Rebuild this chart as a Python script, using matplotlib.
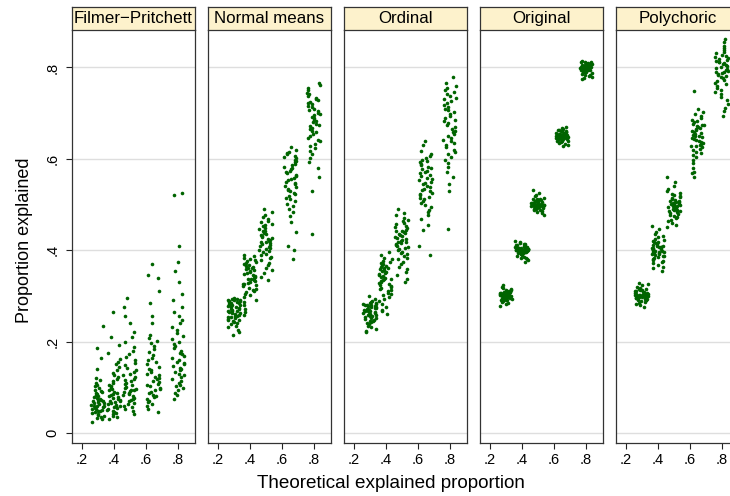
import numpy as np
import pandas as pd
import matplotlib
matplotlib.use('Agg')
import matplotlib.pyplot as plt
import seaborn as sns

methods = ['Filmer\u2212Pritchett', 'Normal means', 'Ordinal', 'Original', 'Polychoric']
levels = [0.3, 0.4, 0.5, 0.65, 0.8]
xtick_vals = [0.2, 0.4, 0.6, 0.8]
xtick_labels = ['.2', '.4', '.6', '.8']
ytick_vals = [0, 0.2, 0.4, 0.6, 0.8]
ytick_labels = ['0', '.2', '.4', '.6', '.8']

# proportion explained (x1000), one list per theoretical level
filmer = [
    [25, 30, 33, 36, 38, 40, 42, 44, 45, 47, 48, 50, 52, 53, 55, 56, 58, 59, 60, 62, 63, 65, 66, 68, 69,
     70, 72, 73, 75, 77, 79, 80, 82, 85, 87, 90, 92, 95, 98, 102, 106, 110, 115, 120, 140, 165, 185, 234],
    [30, 34, 38, 41, 44, 46, 48, 50, 52, 54, 56, 58, 60, 62, 64, 66, 68, 70, 71, 73, 75, 77, 79, 81, 83,
     85, 87, 90, 93, 96, 99, 102, 106, 110, 114, 118, 122, 127, 132, 138, 144, 150, 156, 162, 175, 192, 210, 265],
    [42, 48, 53, 57, 60, 63, 66, 69, 72, 75, 77, 80, 82, 85, 87, 89, 91, 93, 95, 97, 99, 101, 104, 107, 110,
     113, 116, 119, 122, 126, 130, 134, 138, 143, 148, 154, 160, 166, 172, 180, 188, 198, 210, 222, 240, 255, 275, 295],
    [45, 52, 58, 63, 67, 71, 75, 78, 81, 84, 87, 90, 93, 96, 99, 102, 105, 108, 111, 114, 117, 120, 123, 126, 129,
     133, 137, 141, 145, 150, 155, 160, 165, 171, 177, 183, 190, 196, 202, 208, 215, 240, 255, 285, 310, 340, 345, 370],
    [75, 82, 88, 93, 98, 102, 106, 110, 114, 118, 122, 126, 130, 134, 137, 140, 143, 146, 150, 153, 156, 160, 164, 168, 172,
     176, 180, 185, 190, 195, 200, 206, 212, 218, 225, 232, 240, 248, 256, 265, 275, 290, 305, 330, 355, 375, 410, 520, 525],
]
normal_means = [
    [214, 220, 226, 231, 235, 238, 241, 243, 245, 247, 249, 251, 253, 254, 256, 257, 259, 260, 262, 263, 264, 266, 267, 268,
     270, 271, 272, 274, 275, 276, 278, 279, 280, 281, 283, 284, 285, 286, 287, 288, 289, 290, 291, 292, 293, 294, 295, 248],
    [258, 265, 272, 280, 286, 292, 297, 301, 305, 309, 312, 315, 318, 321, 323, 326, 328, 330, 332, 334, 336, 338, 340, 342,
     344, 346, 348, 350, 352, 354, 356, 358, 360, 362, 364, 366, 368, 370, 372, 374, 376, 378, 381, 384, 387, 390, 310, 325],
    [335, 342, 350, 356, 362, 368, 373, 378, 382, 386, 389, 392, 395, 398, 401, 403, 405, 407, 409, 411, 413, 415, 417, 419,
     421, 423, 425, 427, 429, 431, 433, 435, 437, 439, 441, 443, 446, 449, 452, 455, 458, 461, 464, 468, 472, 477, 483, 490],
    [380, 400, 410, 440, 462, 475, 484, 491, 497, 502, 507, 511, 515, 519, 523, 526, 529, 532, 535, 538, 541, 544, 547, 550,
     553, 556, 559, 562, 565, 568, 571, 574, 577, 580, 583, 586, 589, 592, 595, 598, 601, 604, 607, 610, 613, 616, 620, 625],
    [435, 530, 560, 580, 592, 602, 610, 617, 623, 628, 633, 638, 642, 646, 650, 654, 658, 662, 665, 668, 671, 674, 677, 680,
     683, 686, 689, 692, 695, 698, 701, 704, 707, 710, 713, 716, 719, 722, 725, 728, 731, 734, 737, 741, 745, 750, 756, 762, 765],
]
ordinal = [
    [220, 224, 228, 232, 235, 238, 240, 242, 244, 246, 248, 250, 251, 252, 254, 255, 256, 258, 259, 260, 261, 262, 263, 264,
     266, 267, 268, 269, 270, 271, 272, 273, 274, 275, 276, 277, 278, 279, 280, 281, 282, 283, 284, 285, 286, 288, 293, 300],
    [260, 266, 270, 276, 282, 288, 293, 297, 301, 304, 307, 310, 313, 316, 318, 320, 322, 324, 326, 328, 330, 332, 334, 336,
     338, 340, 342, 344, 346, 348, 350, 352, 354, 356, 358, 360, 362, 364, 366, 368, 370, 372, 374, 377, 380, 384, 390, 395],
    [330, 338, 345, 352, 358, 364, 370, 375, 380, 384, 388, 391, 394, 397, 400, 403, 405, 407, 409, 411, 413, 415, 417, 419,
     421, 423, 425, 427, 429, 431, 433, 435, 437, 439, 441, 443, 445, 448, 451, 454, 457, 460, 463, 467, 471, 476, 482, 490],
    [390, 410, 445, 455, 468, 476, 483, 489, 494, 499, 503, 507, 511, 514, 517, 520, 523, 526, 529, 532, 535, 538, 541, 544,
     547, 550, 553, 556, 559, 562, 565, 568, 571, 574, 577, 580, 583, 586, 589, 592, 595, 598, 602, 606, 611, 617, 630, 640],
    [446, 530, 545, 560, 572, 582, 590, 597, 604, 610, 615, 620, 625, 630, 634, 638, 642, 646, 650, 654, 658, 662, 666, 670,
     674, 678, 682, 686, 690, 694, 698, 702, 706, 710, 714, 718, 722, 726, 730, 734, 738, 742, 746, 750, 755, 760, 765, 780],
]
original = [
    [278, 282, 285, 287, 289, 290, 291, 292, 293, 294, 294, 295, 295, 296, 296, 297, 297, 298, 298, 299, 299, 300, 300, 300,
     301, 301, 302, 302, 303, 303, 304, 304, 305, 305, 306, 306, 307, 308, 308, 309, 310, 311, 312, 313, 315, 317, 320, 324],
    [375, 380, 383, 386, 388, 390, 391, 392, 393, 394, 395, 395, 396, 396, 397, 397, 398, 398, 399, 399, 400, 400, 400, 401,
     401, 402, 402, 403, 403, 404, 404, 405, 405, 406, 406, 407, 408, 409, 410, 411, 412, 413, 414, 416, 418, 420, 378, 384],
    [478, 481, 484, 486, 488, 489, 490, 491, 492, 493, 494, 494, 495, 495, 496, 496, 497, 497, 498, 498, 499, 499, 500, 500,
     500, 501, 501, 502, 502, 503, 503, 504, 504, 505, 505, 506, 507, 508, 509, 510, 511, 512, 513, 515, 518, 521, 526, 532],
    [628, 631, 634, 636, 638, 639, 640, 641, 642, 643, 644, 644, 645, 645, 646, 646, 647, 647, 648, 648, 649, 649, 650, 650,
     650, 651, 651, 652, 652, 653, 653, 654, 654, 655, 655, 656, 657, 658, 659, 660, 661, 662, 663, 664, 666, 668, 670, 633],
    [775, 778, 781, 784, 786, 788, 789, 790, 791, 792, 793, 794, 794, 795, 795, 796, 796, 797, 797, 798, 798, 799, 799, 800,
     800, 800, 801, 801, 802, 802, 803, 803, 804, 804, 805, 805, 806, 806, 807, 808, 809, 810, 811, 812, 813, 815, 780, 783],
]
polychoric = [
    [276, 280, 283, 285, 287, 289, 290, 291, 292, 293, 294, 295, 295, 296, 296, 297, 297, 298, 298, 299, 299, 300, 300, 301,
     301, 302, 302, 303, 303, 304, 304, 305, 305, 306, 307, 308, 309, 310, 311, 312, 313, 314, 316, 318, 320, 323, 326, 328],
    [355, 360, 364, 368, 371, 374, 377, 379, 381, 383, 385, 387, 388, 390, 391, 392, 393, 394, 395, 396, 397, 398, 399, 400,
     401, 402, 403, 404, 405, 406, 407, 408, 409, 410, 411, 413, 415, 417, 419, 421, 423, 425, 428, 431, 435, 440, 446, 453],
    [450, 455, 460, 464, 467, 470, 473, 475, 477, 479, 481, 483, 485, 486, 488, 489, 490, 491, 492, 493, 494, 495, 496, 497,
     498, 499, 500, 501, 502, 503, 504, 505, 506, 507, 508, 510, 512, 514, 516, 518, 520, 523, 526, 530, 535, 541, 550, 560],
    [560, 568, 572, 580, 590, 597, 603, 608, 612, 616, 619, 622, 625, 627, 629, 631, 633, 635, 637, 639, 641, 643, 645, 647,
     649, 651, 653, 655, 657, 659, 661, 663, 665, 667, 669, 671, 673, 675, 677, 680, 683, 686, 690, 694, 698, 703, 710, 748],
    [694, 705, 712, 720, 728, 735, 741, 746, 751, 755, 759, 763, 767, 770, 773, 776, 779, 781, 783, 785, 787, 789, 791, 793,
     795, 797, 799, 801, 803, 805, 807, 809, 811, 813, 815, 817, 819, 821, 823, 825, 828, 831, 834, 838, 842, 847, 855, 862],
]


def build_frame():
    rows = []
    for name, groups in zip(methods, [filmer, normal_means, ordinal, original, polychoric]):
        for level, vals in zip(levels, groups):
            for v in vals:
                rows.append((name, level, v / 1000))
    return pd.DataFrame(rows, columns=['method', 'theory', 'prop'])


def main():
    np.random.seed(7)  # jitter only
    df = build_frame()
    plt.rcParams['font.family'] = ['Liberation Sans', 'DejaVu Sans']

    W, H = 730, 496
    fig = plt.figure(figsize=(W / 100, H / 100), dpi=100)
    fig.patch.set_facecolor('white')

    for i, name in enumerate(methods):
        left = 72 + 136 * i
        ax = fig.add_axes([left / W, (H - 443) / H, 123 / W, 413 / H])
        sns.stripplot(data=df[df.method == name], x='theory', y='prop', native_scale=True,
                      jitter=0.42, color='#006400', size=2.6, linewidth=0, ax=ax, zorder=3)
        ax.set_xlim(0.139, 0.908)
        ax.set_ylim(-0.022, 0.882)
        ax.set_xlabel('')
        ax.set_ylabel('')
        ax.set_xticks(xtick_vals)
        ax.set_xticklabels(xtick_labels, fontsize=10.5)
        ax.set_yticks(ytick_vals)
        ax.yaxis.grid(True, color='#dedede', linewidth=1.0)
        ax.xaxis.grid(False)
        ax.set_axisbelow(True)
        ax.tick_params(axis='x', length=4, width=0.8, color='#222222', pad=3)
        if i == 0:
            ax.set_yticklabels(ytick_labels, fontsize=10.5, rotation=90, va='center')
            ax.tick_params(axis='y', length=4, width=0.8, color='#222222', pad=5)
        else:
            ax.tick_params(axis='y', length=0, labelleft=False)
        for sp in ax.spines.values():
            sp.set_color('#333333')
            sp.set_linewidth(0.9)
        ax.spines['top'].set_visible(False)

        # title strip above the panel
        sax = fig.add_axes([left / W, (H - 30) / H, 123 / W, 23 / H])
        sax.set_facecolor('#fdf2cc')
        sax.set_xticks([])
        sax.set_yticks([])
        for sp in sax.spines.values():
            sp.set_color('#333333')
            sp.set_linewidth(0.9)
        sax.text(0.5, 0.5, name, ha='center', va='center', fontsize=12.2, transform=sax.transAxes)

    fig.text(391 / W, (H - 484) / H, 'Theoretical explained proportion', ha='center', va='center', fontsize=13.6)
    fig.text(25 / W, (H - 240) / H, 'Proportion explained', ha='center', va='center', rotation=90, fontsize=13)

    fig.savefig('out.png', dpi=100)


if __name__ == '__main__':
    main()
